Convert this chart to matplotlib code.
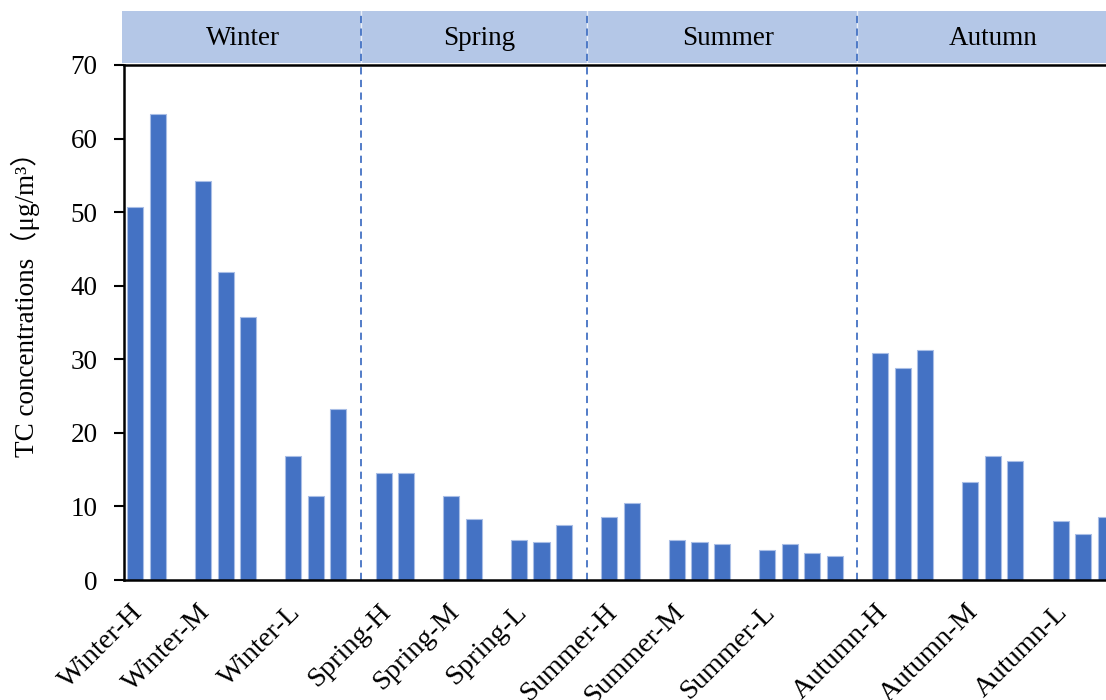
import numpy as np
import matplotlib
matplotlib.use('Agg')
import matplotlib.pyplot as plt
from matplotlib.transforms import ScaledTranslation

plt.rcParams['font.family'] = ['Liberation Serif', 'Noto Sans CJK SC']

# data (TC concentrations, ug/m3)
seasons = ['Winter', 'Spring', 'Summer', 'Autumn']
levels = ['H', 'M', 'L']
winter = [[50.7, 63.3], [54.3, 41.8, 35.8], [16.9, 11.4, 23.2]]
spring = [[14.5, 14.5], [11.4, 8.3], [5.5, 5.2, 7.5]]
summer = [[8.5, 10.4], [5.4, 5.1, 4.9], [4.1, 4.9, 3.7, 3.2]]
autumn = [[30.8, 28.8, 31.2], [13.3, 16.9, 16.2], [8.0, 6.3, 8.5]]
all_data = [winter, spring, summer, autumn]

bar_color = '#4472C4'
band_color = '#B4C7E7'

# build slot positions: one empty slot between groups, one slot for the divider
xs, ys = [], []
tick_pos, tick_lab = [], []
dividers, season_span = [], []
i = 0
for s, groups in zip(seasons, all_data):
    start = i - 0.5
    for k, (lev, vals) in enumerate(zip(levels, groups)):
        tick_pos.append(i)
        tick_lab.append(f'{s}-{lev}')
        for v in vals:
            xs.append(i)
            ys.append(v)
            i += 1
        if k < 2:
            i += 1
    if s != seasons[-1]:
        dividers.append(i)
        season_span.append((start, i))
        i += 1
    else:
        season_span.append((start, i - 0.5))
xmax = i - 0.5

W, H = 1106, 700
fig = plt.figure(figsize=(W / 100, H / 100), dpi=100)
left, right = 124, 1117
ax = fig.add_axes([left / W, (H - 580) / H, (right - left) / W, 515 / H])
hx = fig.add_axes([122 / W, (H - 62.7) / H, (right - 122) / W, (62.7 - 11) / H])

ax.bar(xs, ys, width=0.71, color=bar_color, edgecolor='#A9BEE6', linewidth=0.8, zorder=2)
ax.set_xlim(-0.5, xmax)
ax.set_ylim(0, 70)
ax.set_yticks(np.arange(0, 71, 10))
ax.set_xticks(tick_pos)
ax.set_xticklabels(tick_lab, rotation=45, ha='right', va='top', rotation_mode='anchor')
ax.tick_params(axis='x', length=0, pad=14, labelsize=20.5)
ax.tick_params(axis='y', length=7, width=1.5, direction='out', pad=12, labelsize=19.5)
off = ScaledTranslation(-5 / 100, 0, fig.dpi_scale_trans)
for lab in ax.get_xticklabels():
    lab.set_transform(lab.get_transform() + off)
for sp in ax.spines.values():
    sp.set_linewidth(1.8)
ax.spines['right'].set_visible(False)
ax.set_ylabel('TC concentrations（μg/m³）', fontsize=19.5)
ax.yaxis.set_label_coords(-(left - 40) / (right - left), (580 - 298) / 515)

for d in dividers:
    ax.axvline(d, color=bar_color, lw=1.3, ls=(0, (4, 3)), zorder=1)

# season header band
hx.set_xlim(-0.5 - 2 / 22.57, xmax)
hx.set_ylim(0, 1)
hx.axvspan(-0.5 - 2 / 22.57, xmax, color=band_color, lw=0)
for d in dividers:
    hx.axvline(d, color='white', lw=1.0, alpha=0.7)
    hx.axvline(d, color=bar_color, lw=1.3, ls=(0, (4, 3)), ymin=0.04)
for s, (a, b) in zip(seasons, season_span):
    hx.text((a + b) / 2, 0.47, s, ha='center', va='center', fontsize=19.5)
hx.axis('off')

fig.savefig('out.png', dpi=100)
